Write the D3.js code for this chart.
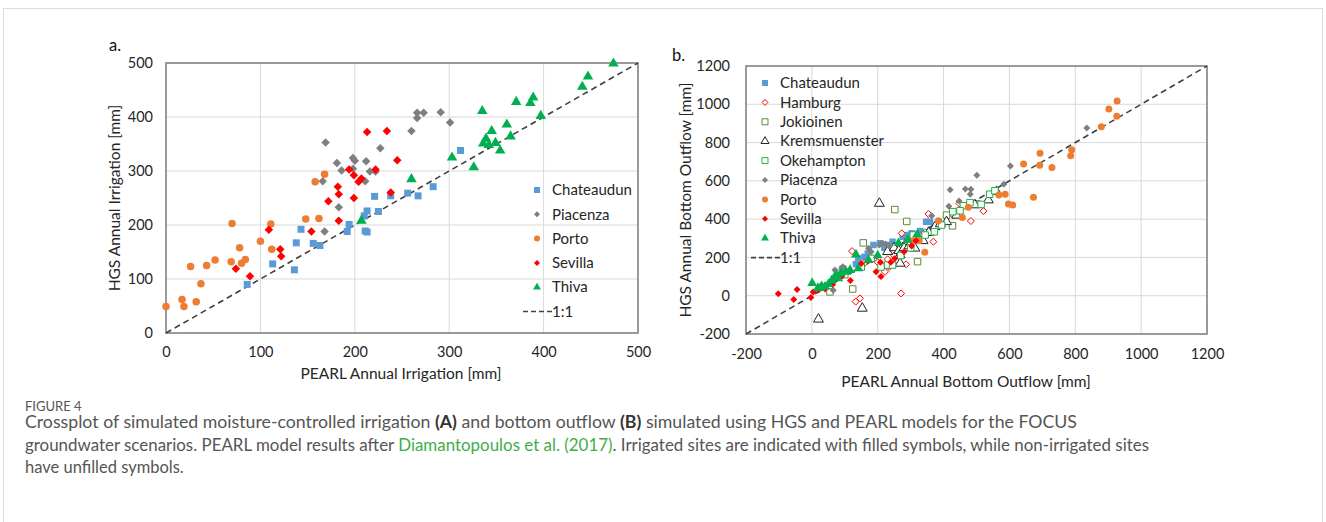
<!DOCTYPE html>
<html>
<head>
<meta charset="utf-8">
<script src="https://cdn.jsdelivr.net/npm/d3@7"></script>
<style>
  body { margin: 0; background: #fff; }
  svg { display: block; }
  text { font-family: Lato, "Noto Sans", sans-serif; }
</style>
</head>
<body>
<div id="chart"></div>
<script>
// ---- panel a: annual irrigation [mm], [PEARL, HGS] ----
const irrChateaudun = [[86,90],[113,128],[136,117],[138,167],[143,192],[156,166],[163,162],[192,188],[194,201],[211,189],
  [213,187],[210,217],[213,226],[221,253],[225,225],[238,254],[256,259],[267,254],[283,271],[312,338]];
const irrPiacenza = [[169,353],[166,281],[181,315],[186,301],[198,324],[200,319],[198,304],[212,318],[211,281],[216,299],
  [222,299],[227,342],[183,233],[168,188],[260,374],[266,408],[273,408],[266,398],[291,409],[301,390]];
const irrPorto = [[0,49],[17,62],[19,49],[32,58],[37,91],[26,123],[43,125],[52,135],[69,132],[70,203],
  [78,158],[80,129],[84,136],[100,170],[111,202],[112,155],[148,211],[162,212],[158,280],[168,294]];
const irrSevilla = [[74,119],[89,105],[109,191],[121,155],[122,142],[154,188],[172,244],[182,271],[183,257],[183,208],
  [199,250],[194,303],[199,292],[204,280],[207,286],[222,303],[213,372],[234,374],[245,320],[238,260]];
const irrThiva = [[207,208],[260,285],[303,325],[326,307],[335,411],[336,351],[339,360],[342,348],[345,374],[349,352],
  [354,338],[361,386],[365,364],[371,428],[386,426],[389,436],[397,402],[441,456],[447,475],[474,499]];

// ---- panel b: annual bottom outflow [mm], [PEARL, HGS] ----
const outChateaudun = [[91,134],[94,143],[134,165],[141,195],[160,203],[170,221],[187,265],[207,274],[220,250],[235,265],
  [245,282],[276,308],[291,317],[303,326],[310,310],[329,338],[347,386],[359,386]];
const outHamburg = [[122,233],[133,-31],[146,-14],[160,170],[200,175],[222,125],[235,150],[230,190],[250,210],[271,12],
  [273,326],[286,164],[290,290],[330,310],[354,427],[369,282],[448,482],[483,390],[521,442],[430,420]];
const outJokioinen = [[55,20],[124,35],[100,110],[156,276],[180,195],[230,160],[252,450],[288,388],[321,178],[350,330],
  [409,421],[427,365],[460,470],[500,480],[250,255]];
const outKrems = [[20,-123],[153,-66],[205,482],[230,230],[250,250],[264,235],[268,213],[268,169],[280,250],[295,260],
  [313,248],[338,287],[355,330],[374,360],[390,375],[409,386],[440,420],[495,474],[536,500],[561,543]];
const outOkehampton = [[150,150],[210,150],[245,160],[270,210],[300,250],[308,317],[344,317],[372,334],[394,369],[428,439],
  [450,444],[480,486],[514,477],[540,530],[556,548]];
const outPiacenza = [[65,28],[70,134],[94,151],[172,248],[180,230],[205,265],[215,274],[224,270],[235,260],[364,418],
  [416,467],[447,495],[420,554],[466,557],[483,556],[481,530],[501,629],[583,582],[603,677],[835,876]];
const outPorto = [[308,287],[326,287],[343,227],[384,392],[457,409],[475,462],[568,526],[587,530],[597,479],[610,474],
  [673,515],[643,688],[692,681],[693,744],[729,670],[786,731],[789,762],[879,883],[926,938],[902,975],[927,1017]];
const outSevilla = [[-102,10],[-55,-20],[-45,33],[-3,-9],[4,20],[20,30],[40,35],[63,58],[90,100],[117,80],
  [150,168],[170,180],[195,125],[210,100],[208,175],[240,175],[252,195],[280,230],[303,260],[316,287]];
const outThiva = [[1,65],[18,40],[25,40],[30,50],[40,47],[50,60],[60,80],[68,95],[75,108],[80,90],
  [88,117],[104,125],[116,134],[134,215],[141,143],[172,186],[200,210],[263,274],[291,291],[320,320]];

const ticksA = [0, 100, 200, 300, 400, 500];
const ticksB = [-200, 0, 200, 400, 600, 800, 1000, 1200];

// marker styles
const styles = {
  Chateaudun:    {shape: "square",   fill: "#5b9bd5", stroke: "none"},
  Hamburg:       {shape: "diamond",  fill: "#fff",    stroke: "#ff0000"},
  Jokioinen:     {shape: "square",   fill: "#fff",    stroke: "#5e8a3a"},
  Kremsmuenster: {shape: "triangle", fill: "#fff",    stroke: "#222"},
  Okehampton:    {shape: "square",   fill: "#fff",    stroke: "#22b04b"},
  Piacenza:      {shape: "diamond",  fill: "#7f7f7f", stroke: "none"},
  Porto:         {shape: "circle",   fill: "#ed7d31", stroke: "none"},
  Sevilla:       {shape: "diamond",  fill: "#ff0000", stroke: "none"},
  Thiva:         {shape: "triangle", fill: "#00b050", stroke: "none"}
};

const svg = d3.select("#chart").append("svg")
  .attr("width", 1326).attr("height", 522);

// figure frame
svg.append("rect").attr("x", 3.5).attr("y", 8.5).attr("width", 1319).attr("height", 530)
  .attr("fill", "none").attr("stroke", "#dcdcdc");

function symbolPath(shape, s) {
  if (shape === "square") return d3.symbol(d3.symbolSquare, s * s)();
  if (shape === "circle") return d3.symbol(d3.symbolCircle, Math.PI * s * s / 4)();
  if (shape === "triangle") return d3.symbol(d3.symbolTriangle, s * s * 0.75)();
  // diamond: square turned 45 degrees
  const h = s / 2;
  return `M0,${-h}L${h},0L0,${h}L${-h},0Z`;
}

function drawPanel(cfg) {
  const x = d3.scaleLinear().domain(cfg.domain).range([cfg.left, cfg.right]);
  const y = d3.scaleLinear().domain(cfg.domain).range([cfg.bottom, cfg.top]);
  const g = svg.append("g");

  // grid
  g.append("g").selectAll("line.gx").data(cfg.ticks).join("line")
    .attr("x1", d => x(d)).attr("x2", d => x(d))
    .attr("y1", cfg.top).attr("y2", cfg.bottom)
    .attr("stroke", "#d9d9d9").attr("stroke-width", 1);
  g.append("g").selectAll("line.gy").data(cfg.ticks).join("line")
    .attr("x1", cfg.left).attr("x2", cfg.right)
    .attr("y1", d => y(d)).attr("y2", d => y(d))
    .attr("stroke", "#d9d9d9").attr("stroke-width", 1);

  // axes (labels only)
  const xAxis = g.append("g").attr("transform", `translate(0,${cfg.bottom})`)
    .call(d3.axisBottom(x).tickValues(cfg.ticks).tickFormat(d => String(d)).tickSize(0).tickPadding(cfg.xPad));
  const yAxis = g.append("g").attr("transform", `translate(${cfg.left},0)`)
    .call(d3.axisLeft(y).tickValues(cfg.ticks).tickFormat(d => String(d)).tickSize(0).tickPadding(cfg.yPad));
  [xAxis, yAxis].forEach(a => {
    a.select(".domain").remove();
    a.selectAll("text").attr("fill", "#262626")
      .style("font-family", "Lato, sans-serif").style("font-size", "14.5px");
  });

  // plot frame
  g.append("rect").attr("x", cfg.left).attr("y", cfg.top)
    .attr("width", cfg.right - cfg.left).attr("height", cfg.bottom - cfg.top)
    .attr("fill", "none").attr("stroke", "#7f7f7f").attr("stroke-width", 1.5);

  // 1:1 line
  g.append("line")
    .attr("x1", x(cfg.domain[0])).attr("y1", y(cfg.domain[0]))
    .attr("x2", x(cfg.domain[1])).attr("y2", y(cfg.domain[1]))
    .attr("stroke", "#404040").attr("stroke-width", 1.6).attr("stroke-dasharray", "6,4");

  // points
  cfg.series.forEach(s => {
    const st = styles[s.name];
    g.append("g").selectAll("path").data(s.values).join("path")
      .attr("transform", d => `translate(${x(d[0])},${y(d[1])})`)
      .attr("d", symbolPath(st.shape, cfg.size[st.shape]))
      .attr("fill", st.fill).attr("stroke", st.stroke).attr("stroke-width", 1);
  });

  // legend
  const leg = g.append("g");
  cfg.series.forEach((s, i) => {
    const st = styles[s.name];
    const ly = cfg.legY + i * cfg.legStep;
    leg.append("path").attr("transform", `translate(${cfg.legX},${ly})`)
      .attr("d", symbolPath(st.shape, cfg.legSize))
      .attr("fill", st.fill).attr("stroke", st.stroke).attr("stroke-width", 1);
    leg.append("text").attr("x", cfg.legX + 15).attr("y", ly).attr("dy", "0.35em")
      .attr("fill", "#262626").style("font-size", "15px").text(s.name);
  });
  const ly = cfg.legY + cfg.series.length * cfg.legStep;
  leg.append("line").attr("x1", cfg.legX - 14).attr("x2", cfg.legX + 15)
    .attr("y1", ly).attr("y2", ly)
    .attr("stroke", "#404040").attr("stroke-width", 1.6).attr("stroke-dasharray", "5,3");
  leg.append("text").attr("x", cfg.legX + 15).attr("y", ly).attr("dy", "0.35em")
    .attr("fill", "#262626").style("font-size", "15px").text("1:1");

  // titles
  g.append("text").attr("x", cfg.xTitle[0]).attr("y", cfg.xTitle[1])
    .attr("text-anchor", "middle").attr("fill", "#262626").style("font-size", "15.5px").text(cfg.xLabel);
  g.append("text").attr("transform", `translate(${cfg.yTitle[0]},${cfg.yTitle[1]}) rotate(-90)`)
    .attr("text-anchor", "middle").attr("fill", "#262626").style("font-size", "15.5px").text(cfg.yLabel);
  g.append("text").attr("x", cfg.tag[0]).attr("y", cfg.tag[1])
    .attr("fill", "#111").style("font-size", "16.5px").text(cfg.tagText);
}

drawPanel({
  domain: [0, 500], ticks: ticksA,
  left: 166, right: 638, top: 63, bottom: 333,
  xPad: 14, yPad: 13,
  size: {square: 7, diamond: 8.5, circle: 7.5, triangle: 8},
  series: [
    {name: "Chateaudun", values: irrChateaudun},
    {name: "Piacenza", values: irrPiacenza},
    {name: "Porto", values: irrPorto},
    {name: "Sevilla", values: irrSevilla},
    {name: "Thiva", values: irrThiva}
  ],
  legX: 537, legY: 190, legStep: 24.3, legSize: 6,
  xLabel: "PEARL Annual Irrigation [mm]", xTitle: [401, 379],
  yLabel: "HGS Annual Irrigation [mm]", yTitle: [120, 198],
  tag: [109, 51], tagText: "a."
});

drawPanel({
  domain: [-200, 1200], ticks: ticksB,
  left: 746, right: 1207, top: 66, bottom: 334,
  xPad: 15, yPad: 16,
  size: {square: 6.5, diamond: 7, circle: 7, triangle: 7.5},
  series: [
    {name: "Chateaudun", values: outChateaudun},
    {name: "Hamburg", values: outHamburg},
    {name: "Jokioinen", values: outJokioinen},
    {name: "Kremsmuenster", values: outKrems},
    {name: "Okehampton", values: outOkehampton},
    {name: "Piacenza", values: outPiacenza},
    {name: "Porto", values: outPorto},
    {name: "Sevilla", values: outSevilla},
    {name: "Thiva", values: outThiva}
  ],
  legX: 765, legY: 83, legStep: 19.4, legSize: 6,
  xLabel: "PEARL Annual Bottom Outflow [mm]", xTitle: [966, 387],
  yLabel: "HGS Annual Bottom Outflow [mm]", yTitle: [691, 200],
  tag: [672, 61], tagText: "b."
});

// caption
const cap = svg.append("g").attr("fill", "#555");
cap.append("text").attr("x", 25).attr("y", 411).style("font-size", "13px")
  .attr("fill", "#555").text("FIGURE 4");

const line1 = cap.append("text").attr("x", 25).attr("y", 428).style("font-size", "16.5px")
  .attr("textLength", 1052).attr("lengthAdjust", "spacingAndGlyphs");
line1.append("tspan").text("Crossplot of simulated moisture-controlled irrigation ");
line1.append("tspan").attr("font-weight", 700).attr("fill", "#333").text("(A)");
line1.append("tspan").text(" and bottom outflow ");
line1.append("tspan").attr("font-weight", 700).attr("fill", "#333").text("(B)");
line1.append("tspan").text(" simulated using HGS and PEARL models for the FOCUS");

const line2 = cap.append("text").attr("x", 25).attr("y", 451).style("font-size", "16.5px")
  .attr("textLength", 1124).attr("lengthAdjust", "spacingAndGlyphs");
line2.append("tspan").text("groundwater scenarios. PEARL model results after ");
line2.append("tspan").attr("fill", "#3fae49").text("Diamantopoulos et al. (2017)");
line2.append("tspan").text(". Irrigated sites are indicated with filled symbols, while non-irrigated sites");

cap.append("text").attr("x", 25).attr("y", 473).style("font-size", "16.5px")
  .text("have unfilled symbols.");
</script>
</body>
</html>
